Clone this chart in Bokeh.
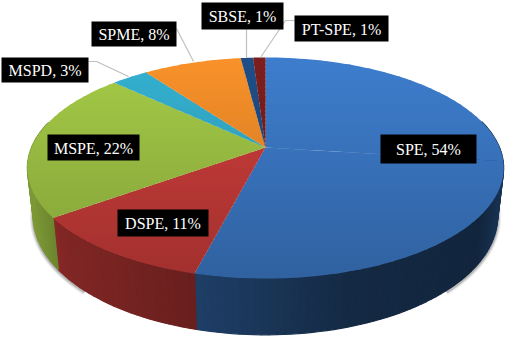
import numpy as np
from bokeh.plotting import figure
from bokeh.models import Range1d
from bokeh.core.properties import value
from bokeh.embed import file_html
from bokeh.resources import INLINE

# ---- data
categories = ["SPE", "DSPE", "MSPE", "MSPD", "SPME", "SBSE", "PT-SPE"]
shares = [54, 11, 22, 3, 8, 1, 1]
labels = [f"{c}, {s}%" for c, s in zip(categories, shares)]

# ---- styles and layout
top_colors = ["#3E7ECE", "#D03F3C", "#A6CC48", "#35B2D2", "#FA922A", "#1F4F88", "#7E1F1F"]
label_boxes = [(380, 476, 134, 163), (117, 208, 209, 236), (47, 139, 134, 160),
               (1, 88, 57, 82), (91, 176, 21, 46), (201, 283, 2, 29), (294, 388, 15, 41)]
leaders = [([88, 96, 128], [61, 61, 76]), ([176, 193], [28, 61]),
           ([246, 246], [29, 57]), ([294, 285, 260], [20, 20, 57])]
APEX = (265.0, 147.0)
RX, RY, K = 234.0, 106.7, 0.1855


def rim(frac):
    """Clockwise share of the circle (0..1, from 12 o'clock) to page pixels, in perspective."""
    a = 2 * np.pi * np.asarray(frac, float)
    u, v = np.sin(a), np.cos(a)
    d = 1 + K * v
    return APEX[0] + RX * u / d, APEX[1] - RY * v / d


def lower(x, y):
    return APEX[0] + (np.asarray(x) - APEX[0]) * 0.975, 36 + 1.073 * np.asarray(y)


def shade(hex_color, f):
    r, g, b = (int(hex_color[i:i + 2], 16) for i in (1, 3, 5))
    return "#%02x%02x%02x" % tuple(int(min(255, c * f)) for c in (r, g, b))


def clip(pts, y0, keep_below):
    out = []
    n = len(pts)
    for i in range(n):
        a, b = pts[i], pts[(i + 1) % n]
        ia = (a[1] >= y0) == keep_below
        ib = (b[1] >= y0) == keep_below
        if ia:
            out.append(a)
        if ia != ib:
            t = (y0 - a[1]) / (b[1] - a[1])
            out.append((a[0] + t * (b[0] - a[0]), y0))
    return out


p = figure(width=505, height=339, output_backend="svg", toolbar_location=None,
           x_range=Range1d(0, 505), y_range=Range1d(339, 0), min_border=0,
           outline_line_color=None, background_fill_color="white", border_fill_color="white")
p.axis.visible = False
p.grid.visible = False

total = sum(shares)
edges = np.cumsum([0] + shares) / total

# soft shadow under the drum
ft = np.linspace(0.12, 0.88, 200) + 0.5
fx, fy = lower(*rim(ft))
for w, a in [(7, 0.10), (5, 0.15), (3, 0.25)]:
    p.line(fx, fy + 1, line_color="#555555", line_width=w, line_alpha=a)

# side wall
side_x = [30, 60, 195, 350, 480, 500]
side_f = [0.75, 0.62, 0.5, 0.33, 0.3, 0.4]
xs, ys, cs = [], [], []
for i, col in enumerate(top_colors):
    n = max(2, int((edges[i + 1] - edges[i]) * 240))
    t = np.linspace(edges[i], edges[i + 1], n + 1)
    tx, ty = rim(t)
    bx, by = lower(tx, ty)
    for j in range(n):
        if np.cos(2 * np.pi * (t[j] + t[j + 1]) / 2) > 0.25:
            continue
        xs.append([tx[j], tx[j + 1], bx[j + 1], bx[j]])
        ys.append([ty[j], ty[j + 1], by[j + 1], by[j]])
        f = float(np.interp((tx[j] + tx[j + 1]) / 2, side_x, side_f))
        cs.append(shade(col, f))
p.patches(xs, ys, fill_color=cs, line_color=cs, line_width=1.2)

# top surface, banded vertically for the gradient
xs, ys, cs = [], [], []
BAND = 4
for i, col in enumerate(top_colors):
    span = edges[i + 1] - edges[i]
    pieces = int(np.ceil(span / 0.3))
    cuts = np.linspace(edges[i], edges[i + 1], pieces + 1)
    for k in range(pieces):
        t = np.linspace(cuts[k], cuts[k + 1], 60)
        rx_, ry_ = rim(t)
        poly = [APEX] + list(zip(rx_, ry_))
        for y0 in range(56, 282, BAND):
            q = clip(clip(poly, y0, True), y0 + BAND + 1, False)
            if len(q) < 3:
                continue
            f = 1 - 0.22 * (y0 + BAND / 2 - 57) / 221
            xs.append([c[0] for c in q])
            ys.append([c[1] for c in q])
            cs.append(shade(col, f))
p.patches(xs, ys, fill_color=cs, line_color=None)

# leader lines
for lx, ly in leaders:
    p.line(lx, ly, line_color="#BFBFBF", line_width=1.2)

# labels
l = [b[0] for b in label_boxes]
r = [b[1] for b in label_boxes]
t_ = [b[2] for b in label_boxes]
b_ = [b[3] for b in label_boxes]
p.quad(left=l, right=r, top=t_, bottom=b_, fill_color="black", line_color=None)
p.text(x=[(a + b) / 2 for a, b in zip(l, r)], y=[(a + b) / 2 + 0.5 for a, b in zip(t_, b_)],
       text=labels, text_color="white", text_font=value("Liberation Serif"),
       text_font_size="16px", text_align="center", text_baseline="middle")

open("out.html", "w").write(file_html(p, INLINE))
